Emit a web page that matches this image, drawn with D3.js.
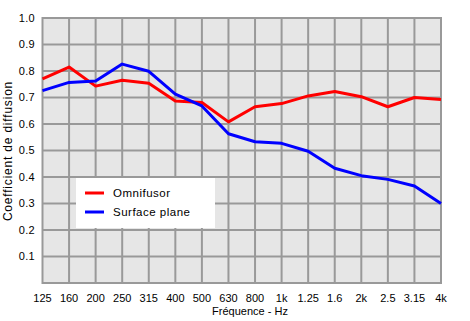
<!DOCTYPE html>
<html>
<head>
<meta charset="utf-8">
<script src="https://cdn.jsdelivr.net/npm/d3@7"></script>
<style>
  body { margin: 0; background: #fff; }
  svg { display: block; font-family: "Liberation Sans", Arial, sans-serif; }
</style>
</head>
<body>
<div id="chart"></div>
<script>
const frequencies = ["125", "160", "200", "250", "315", "400", "500", "630", "800", "1k",
                     "1.25", "1.6", "2k", "2.5", "3.15", "4k"];
const omnifusor = [0.77, 0.815, 0.743, 0.765, 0.754, 0.687, 0.681, 0.608, 0.665, 0.677,
                   0.706, 0.723, 0.703, 0.665, 0.70, 0.692];
const surfacePlane = [0.726, 0.757, 0.762, 0.826, 0.799, 0.713, 0.668, 0.563, 0.533, 0.527,
                      0.497, 0.433, 0.405, 0.391, 0.366, 0.30];
const yTicks = [0.1, 0.2, 0.3, 0.4, 0.5, 0.6, 0.7, 0.8, 0.9, 1.0];

const series = [
  {name: "Omnifusor", values: omnifusor, color: "#ff0000"},
  {name: "Surface plane", values: surfacePlane, color: "#0000ff"}
];

const width = 470, height = 321;
const plot = {left: 42.5, right: 441, top: 18, bottom: 283};
const grid = "#999999";

const svg = d3.select("#chart").append("svg")
    .attr("width", width)
    .attr("height", height);

const x = d3.scalePoint().domain(frequencies).range([plot.left, plot.right]);
const y = d3.scaleLinear().domain([0, 1]).range([plot.bottom, plot.top]);

svg.append("rect")
    .attr("x", plot.left)
    .attr("y", plot.top)
    .attr("width", plot.right - plot.left)
    .attr("height", plot.bottom - plot.top)
    .attr("fill", "#e6e6e6");

// grid: horizontal
svg.append("g")
  .selectAll("line")
  .data([0].concat(yTicks))
  .join("line")
    .attr("x1", plot.left)
    .attr("x2", plot.right)
    .attr("y1", d => y(d))
    .attr("y2", d => y(d))
    .attr("stroke", grid)
    .attr("stroke-width", 2);

// grid: vertical
svg.append("g")
  .selectAll("line")
  .data(frequencies)
  .join("line")
    .attr("x1", d => x(d))
    .attr("x2", d => x(d))
    .attr("y1", plot.top - 1)
    .attr("y2", plot.bottom + 1)
    .attr("stroke", grid)
    .attr("stroke-width", 2);

// y tick labels
svg.append("g")
  .selectAll("text")
  .data(yTicks)
  .join("text")
    .attr("x", 35)
    .attr("y", d => y(d))
    .attr("dy", "0.35em")
    .attr("text-anchor", "end")
    .attr("font-size", "11px")
    .attr("letter-spacing", "0.3px")
    .text(d => d3.format(".1f")(d));

// x tick labels
svg.append("g")
  .selectAll("text")
  .data(frequencies)
  .join("text")
    .attr("x", d => x(d))
    .attr("y", 302)
    .attr("text-anchor", "middle")
    .attr("font-size", "11px")
    .text(d => d);

svg.append("text")
    .attr("x", 250)
    .attr("y", 315)
    .attr("text-anchor", "middle")
    .attr("font-size", "11px")
    .text("Fréquence - Hz");

svg.append("text")
    .attr("transform", `translate(11.5,151) rotate(-90)`)
    .attr("text-anchor", "middle")
    .attr("font-size", "12px")
    .attr("letter-spacing", "0.8px")
    .text("Coefficient de diffusion");

const line = d3.line()
    .x((d, i) => x(frequencies[i]))
    .y(d => y(d));

svg.append("g")
  .selectAll("path")
  .data(series)
  .join("path")
    .attr("d", d => line(d.values))
    .attr("fill", "none")
    .attr("stroke", d => d.color)
    .attr("stroke-width", 3)
    .attr("stroke-linejoin", "round");

// legend
const legend = svg.append("g").attr("transform", "translate(76,178)");

legend.append("rect")
    .attr("width", 139)
    .attr("height", 50)
    .attr("fill", "#ffffff");

const item = legend.selectAll("g")
  .data(series)
  .join("g")
    .attr("transform", (d, i) => `translate(0,${15 + i * 19})`);

item.append("line")
    .attr("x1", 9)
    .attr("x2", 28)
    .attr("stroke", d => d.color)
    .attr("stroke-width", 3);

item.append("text")
    .attr("x", 37)
    .attr("dy", "0.35em")
    .attr("font-size", "11.5px")
    .attr("letter-spacing", "0.5px")
    .text(d => d.name);
</script>
</body>
</html>
